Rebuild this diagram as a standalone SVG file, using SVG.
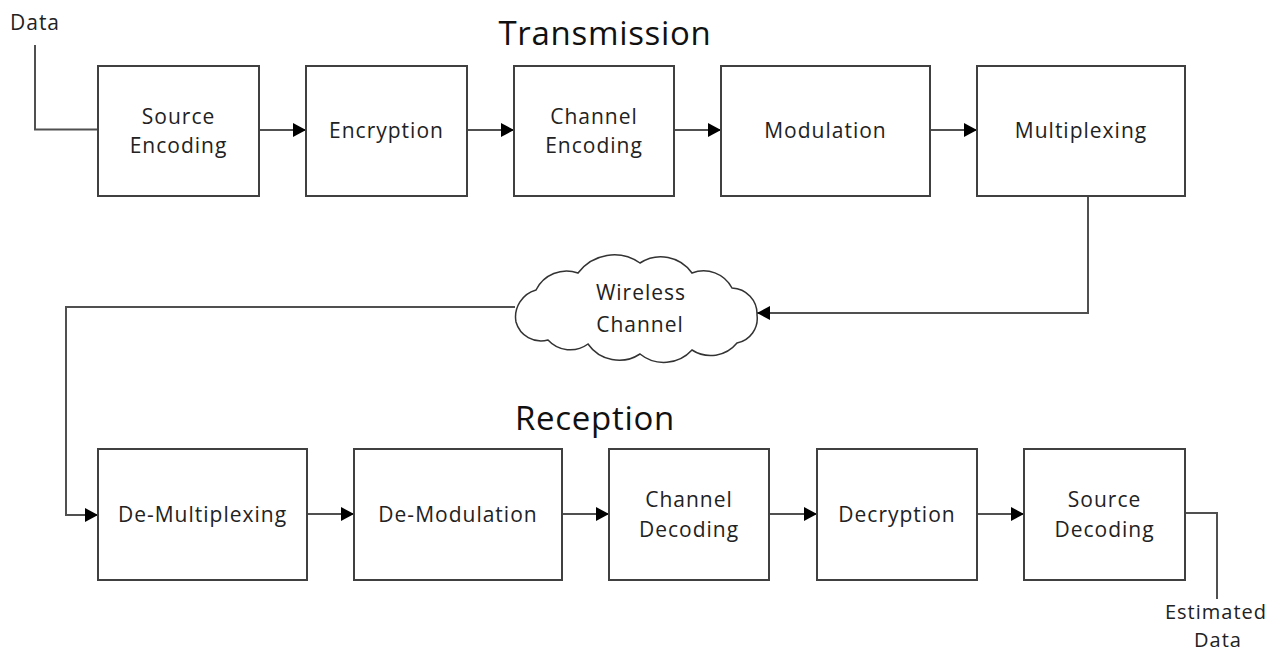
<svg xmlns="http://www.w3.org/2000/svg" width="1271" height="653" viewBox="0 0 1271 653">
<defs>
<marker id="arr" markerWidth="14" markerHeight="14" refX="13" refY="7" orient="auto" markerUnits="userSpaceOnUse">
<path d="M0,0 L13,7 L0,14 Z" fill="#000"/>
</marker>
<style>
.box{fill:#fff;stroke:#404040;stroke-width:2}
.lbl{font-family:"Open Sans","Liberation Sans",sans-serif;font-size:21px;letter-spacing:1px;fill:#222;text-anchor:middle}
.sm{font-size:20px}
.title{font-family:"Open Sans","Liberation Sans",sans-serif;font-size:33px;letter-spacing:0.7px;fill:#111;text-anchor:middle}
.ln{fill:none;stroke:#505050;stroke-width:2}
.cloud{fill:#fff;stroke:#333;stroke-width:1.5}
</style>
</defs>
<rect width="1271" height="653" fill="#fff"/>
<text class="title" x="605" y="45">Transmission</text>
<text class="title" x="595" y="430">Reception</text>
<g id="connectors">
<polyline class="ln" points="35,45 35,129.5 98,129.5"/>
<line class="ln" x1="259" y1="130" x2="306" y2="130" marker-end="url(#arr)"/>
<line class="ln" x1="467" y1="130" x2="514" y2="130" marker-end="url(#arr)"/>
<line class="ln" x1="674" y1="130" x2="721" y2="130" marker-end="url(#arr)"/>
<line class="ln" x1="930" y1="130" x2="977" y2="130" marker-end="url(#arr)"/>
<polyline class="ln" points="1088,196 1088,313 757,313" marker-end="url(#arr)"/>
<polyline class="ln" points="515,307 66,307 66,515 98,515" marker-end="url(#arr)"/>
<line class="ln" x1="307" y1="514" x2="354" y2="514" marker-end="url(#arr)"/>
<line class="ln" x1="562" y1="514" x2="609" y2="514" marker-end="url(#arr)"/>
<line class="ln" x1="769" y1="514" x2="817" y2="514" marker-end="url(#arr)"/>
<line class="ln" x1="977" y1="514" x2="1024" y2="514" marker-end="url(#arr)"/>
<polyline class="ln" points="1185,513 1217,513 1217,599"/>
</g>
<g id="data-in"><text class="lbl" x="35" y="30">Data</text></g>
<g id="source-encoding"><rect class="box" x="98" y="66" width="161" height="130"/><text class="lbl" x="178.5" y="124">Source</text><text class="lbl" x="178.5" y="153">Encoding</text></g>
<g id="encryption"><rect class="box" x="306" y="66" width="161" height="130"/><text class="lbl" x="386.5" y="138">Encryption</text></g>
<g id="channel-encoding"><rect class="box" x="514" y="66" width="160" height="130"/><text class="lbl" x="594" y="124">Channel</text><text class="lbl" x="594" y="153">Encoding</text></g>
<g id="modulation"><rect class="box" x="721" y="66" width="209" height="130"/><text class="lbl" x="825.5" y="138">Modulation</text></g>
<g id="multiplexing"><rect class="box" x="977" y="66" width="208" height="130"/><text class="lbl" x="1081" y="138">Multiplexing</text></g>
<g id="wireless-channel">
<path class="cloud" d="M516,322 A28,28 0 0 1 536,290 A34,34 0 0 1 578,273 A45,45 0 0 1 640,263 A38,38 0 0 1 692,273 A32,32 0 0 1 732,288 A26,26 0 0 1 757,315 A25,25 0 0 1 737,343 A34,34 0 0 1 692,350 A38,38 0 0 1 640,354 A38,38 0 0 1 588,344 A30,30 0 0 1 548,340 A26,26 0 0 1 516,322 Z"/>
<text class="lbl" x="641" y="300">Wireless</text><text class="lbl" x="640" y="332">Channel</text>
</g>
<g id="de-multiplexing"><rect class="box" x="98" y="449" width="209" height="131"/><text class="lbl" x="202.5" y="522">De-Multiplexing</text></g>
<g id="de-modulation"><rect class="box" x="354" y="449" width="208" height="131"/><text class="lbl" x="458" y="522">De-Modulation</text></g>
<g id="channel-decoding"><rect class="box" x="609" y="449" width="160" height="131"/><text class="lbl" x="689" y="507">Channel</text><text class="lbl" x="689" y="537">Decoding</text></g>
<g id="decryption"><rect class="box" x="817" y="449" width="160" height="131"/><text class="lbl" x="897" y="522">Decryption</text></g>
<g id="source-decoding"><rect class="box" x="1024" y="449" width="161" height="131"/><text class="lbl" x="1104.5" y="507">Source</text><text class="lbl" x="1104.5" y="537">Decoding</text></g>
<g id="data-out"><text class="lbl sm" x="1216" y="619">Estimated</text><text class="lbl sm" x="1218" y="647">Data</text></g>
</svg>
